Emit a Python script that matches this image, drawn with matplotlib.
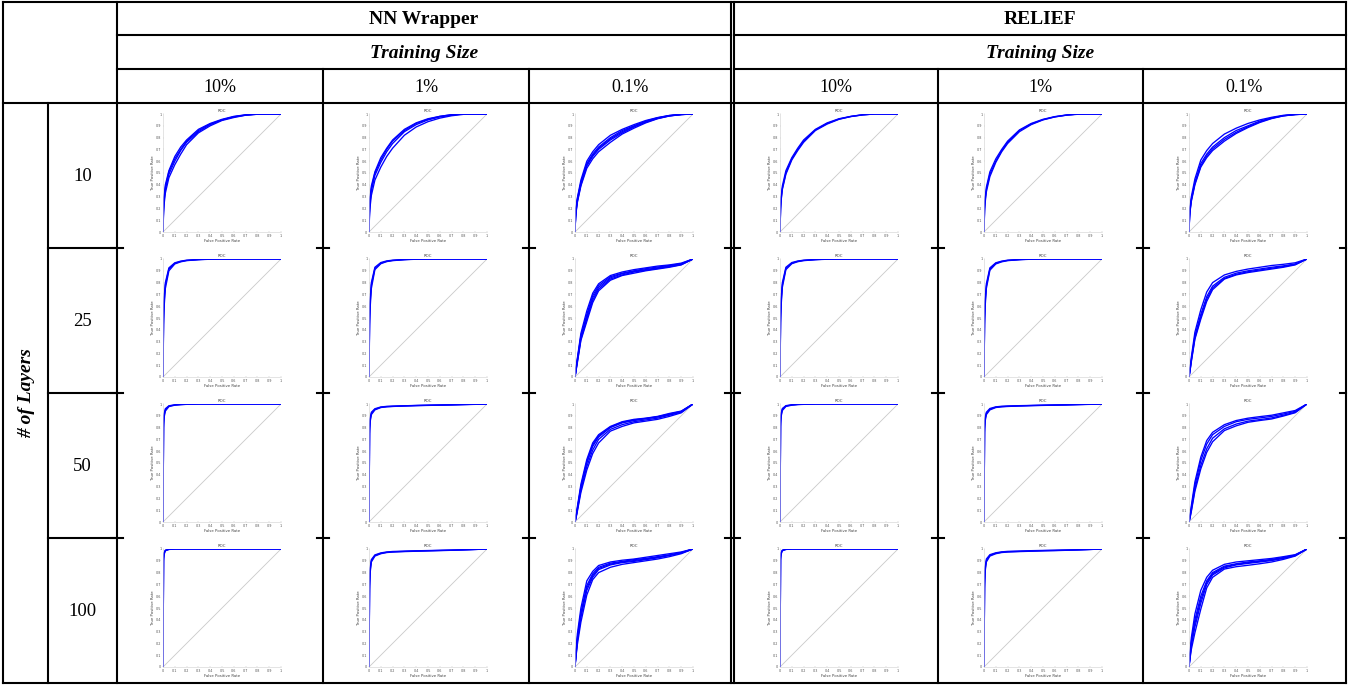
import matplotlib
matplotlib.use("Agg")
import matplotlib.pyplot as plt

W, H = 1348, 685

# ---------------- table labels ----------------
METHODS = ["NN Wrapper", "RELIEF"]
SUBHEAD = "Training Size"
SIZES = ["10%", "1%", "0.1%"]
LAYERS = ["10", "25", "50", "100"]
ROW_TITLE = "# of Layers"

# ---------------- ROC data ----------------
FPR = [0, .005, .01, .02, .05, .1, .15, .2, .3, .4, .5, .6, .7, .8, .9, 1]
DIAG = [0, 1]
TICKS = [0, .1, .2, .3, .4, .5, .6, .7, .8, .9, 1]
TICK_LABELS = ["0", "0.1", "0.2", "0.3", "0.4", "0.5", "0.6", "0.7", "0.8", "0.9", "1"]

NN_L10_S10 = [
    [0, .24, .31, .40, .52, .64, .72, .78, .87, .92, .955, .98, .993, 1, 1, 1],
    [0, .20, .27, .36, .49, .60, .69, .76, .85, .91, .95, .975, .99, .998, 1, 1],
    [0, .17, .24, .33, .46, .57, .66, .74, .84, .90, .945, .97, .99, .998, 1, 1],
    [0, .22, .29, .38, .51, .62, .70, .77, .86, .915, .95, .977, .992, 1, 1, 1],
]
NN_L10_S1 = [
    [0, .23, .30, .39, .51, .63, .71, .78, .87, .925, .96, .98, .995, 1, 1, 1],
    [0, .19, .26, .35, .48, .59, .68, .75, .85, .91, .95, .975, .99, 1, 1, 1],
    [0, .16, .22, .31, .44, .55, .64, .71, .82, .89, .935, .965, .985, .997, 1, 1],
    [0, .21, .28, .37, .50, .61, .70, .77, .86, .92, .955, .98, .993, 1, 1, 1],
]
NN_L10_S01 = [
    [0, .15, .21, .29, .44, .60, .68, .74, .82, .87, .91, .945, .97, .988, .997, 1],
    [0, .13, .19, .27, .41, .57, .65, .71, .79, .85, .895, .935, .965, .985, .996, 1],
    [0, .12, .17, .25, .39, .54, .62, .68, .76, .83, .88, .925, .96, .983, .995, 1],
    [0, .14, .20, .28, .42, .58, .66, .72, .80, .86, .90, .94, .968, .987, .996, 1],
    [0, .12, .18, .26, .40, .56, .64, .70, .78, .84, .89, .93, .962, .984, .995, 1],
]
NN_L25_S10 = [
    [0, .55, .68, .80, .925, .968, .982, .99, .996, 1, 1, 1, 1, 1, 1, 1],
    [0, .45, .60, .75, .90, .958, .976, .986, .994, .998, 1, 1, 1, 1, 1, 1],
    [0, .50, .64, .78, .915, .963, .979, .988, .995, .999, 1, 1, 1, 1, 1, 1],
]
NN_L25_S1 = [
    [0, .52, .66, .80, .93, .97, .984, .99, .996, 1, 1, 1, 1, 1, 1, 1],
    [0, .44, .59, .75, .91, .96, .978, .986, .994, .998, 1, 1, 1, 1, 1, 1],
    [0, .48, .63, .78, .92, .965, .98, .988, .995, .999, 1, 1, 1, 1, 1, 1],
]
NN_L25_S01 = [
    [0, .04, .08, .16, .37, .56, .71, .79, .86, .89, .91, .925, .94, .95, .965, 1],
    [0, .035, .07, .14, .34, .51, .67, .76, .84, .875, .895, .91, .925, .94, .955, 1],
    [0, .03, .06, .12, .31, .47, .63, .73, .82, .86, .88, .90, .915, .93, .95, 1],
    [0, .04, .075, .15, .35, .53, .69, .775, .85, .88, .90, .918, .932, .945, .96, 1],
    [0, .03, .065, .13, .32, .49, .65, .745, .83, .865, .89, .905, .92, .935, .952, 1],
]
NN_L50_S10 = [
    [0, .85, .92, .96, .985, .993, .996, .998, 1, 1, 1, 1, 1, 1, 1, 1],
    [0, .80, .89, .94, .978, .99, .995, .997, 1, 1, 1, 1, 1, 1, 1, 1],
    [0, .83, .905, .95, .982, .992, .9955, .9975, 1, 1, 1, 1, 1, 1, 1, 1],
]
NN_L50_S1 = [
    [0, .80, .88, .93, .96, .975, .98, .982, .985, .988, .99, .992, .994, .996, .998, 1],
    [0, .75, .85, .91, .95, .97, .976, .979, .983, .986, .988, .99, .992, .995, .997, 1],
    [0, .78, .865, .92, .955, .972, .978, .98, .984, .987, .989, .991, .993, .9955, .9975, 1],
]
NN_L50_S01 = [
    [0, .03, .06, .13, .32, .53, .67, .74, .81, .85, .87, .88, .895, .92, .94, 1],
    [0, .025, .05, .11, .29, .50, .64, .72, .80, .84, .86, .875, .89, .91, .935, 1],
    [0, .02, .045, .10, .27, .47, .61, .70, .785, .825, .85, .865, .88, .905, .93, 1],
    [0, .02, .04, .09, .25, .44, .58, .67, .77, .81, .84, .855, .87, .895, .925, 1],
    [0, .025, .05, .115, .30, .51, .655, .73, .805, .845, .865, .878, .892, .915, .937, 1],
]
NN_L100_S10 = [
    [0, .93, .97, .99, .998, 1, 1, 1, 1, 1, 1, 1, 1, 1, 1, 1],
    [0, .90, .955, .985, .996, 1, 1, 1, 1, 1, 1, 1, 1, 1, 1, 1],
    [0, .92, .963, .988, .997, 1, 1, 1, 1, 1, 1, 1, 1, 1, 1, 1],
]
NN_L100_S1 = [
    [0, .72, .84, .91, .95, .967, .975, .979, .982, .985, .987, .989, .991, .994, .997, 1],
    [0, .66, .80, .89, .94, .96, .97, .974, .978, .981, .984, .986, .989, .992, .996, 1],
    [0, .69, .82, .90, .945, .963, .972, .976, .98, .983, .985, .988, .99, .993, .996, 1],
]
NN_L100_S01 = [
    [0, .08, .15, .28, .50, .73, .81, .86, .89, .905, .915, .93, .945, .96, .975, 1],
    [0, .07, .13, .25, .46, .69, .79, .845, .88, .895, .91, .92, .935, .95, .97, 1],
    [0, .06, .11, .22, .42, .65, .76, .825, .865, .885, .895, .91, .925, .945, .965, 1],
    [0, .05, .10, .19, .38, .61, .74, .80, .845, .87, .885, .90, .915, .935, .96, 1],
    [0, .065, .12, .23, .44, .67, .775, .835, .872, .89, .902, .915, .93, .948, .968, 1],
]

RE_L10_S10 = [
    [0, .22, .30, .39, .52, .63, .71, .78, .87, .925, .96, .98, .994, 1, 1, 1],
    [0, .19, .27, .36, .49, .61, .69, .76, .86, .915, .955, .978, .992, 1, 1, 1],
    [0, .20, .28, .37, .50, .62, .70, .77, .865, .92, .957, .979, .993, 1, 1, 1],
]
RE_L10_S1 = [
    [0, .22, .29, .38, .51, .62, .70, .77, .865, .92, .955, .978, .992, 1, 1, 1],
    [0, .18, .25, .34, .47, .59, .68, .75, .85, .91, .95, .975, .99, .998, 1, 1],
    [0, .20, .27, .36, .49, .60, .69, .76, .86, .915, .952, .976, .991, 1, 1, 1],
]
RE_L10_S01 = [
    [0, .16, .22, .30, .45, .61, .69, .75, .83, .88, .92, .95, .972, .989, .997, 1],
    [0, .14, .20, .28, .42, .58, .66, .72, .80, .86, .90, .94, .967, .986, .996, 1],
    [0, .12, .18, .26, .40, .55, .63, .69, .77, .835, .885, .928, .961, .984, .995, 1],
    [0, .13, .19, .27, .41, .56, .645, .705, .785, .845, .892, .933, .964, .985, .995, 1],
]
RE_L25_S10 = [
    [0, .53, .67, .80, .93, .97, .983, .99, .996, 1, 1, 1, 1, 1, 1, 1],
    [0, .46, .61, .76, .91, .96, .977, .986, .994, .998, 1, 1, 1, 1, 1, 1],
    [0, .50, .64, .78, .92, .965, .98, .988, .995, .999, 1, 1, 1, 1, 1, 1],
]
RE_L25_S1 = [
    [0, .51, .66, .79, .925, .968, .982, .99, .996, 1, 1, 1, 1, 1, 1, 1],
    [0, .45, .60, .75, .905, .958, .976, .986, .994, .998, 1, 1, 1, 1, 1, 1],
    [0, .48, .63, .77, .915, .963, .979, .988, .995, .999, 1, 1, 1, 1, 1, 1],
]
RE_L25_S01 = [
    [0, .04, .08, .17, .38, .57, .72, .80, .865, .895, .915, .93, .945, .955, .968, 1],
    [0, .035, .07, .15, .35, .53, .68, .77, .845, .88, .90, .915, .93, .942, .958, 1],
    [0, .03, .06, .13, .32, .49, .64, .74, .83, .865, .885, .90, .915, .93, .95, 1],
    [0, .03, .065, .14, .33, .51, .66, .755, .835, .87, .892, .907, .922, .936, .954, 1],
]
RE_L50_S10 = [
    [0, .86, .925, .962, .986, .994, .997, .998, 1, 1, 1, 1, 1, 1, 1, 1],
    [0, .81, .895, .945, .979, .99, .995, .997, 1, 1, 1, 1, 1, 1, 1, 1],
    [0, .84, .91, .953, .983, .992, .996, .998, 1, 1, 1, 1, 1, 1, 1, 1],
]
RE_L50_S1 = [
    [0, .81, .885, .93, .962, .976, .981, .983, .986, .988, .99, .992, .994, .996, .998, 1],
    [0, .76, .855, .91, .95, .97, .976, .979, .983, .986, .988, .99, .992, .995, .997, 1],
    [0, .79, .87, .92, .956, .973, .978, .981, .984, .987, .989, .991, .993, .9955, .9975, 1],
]
RE_L50_S01 = [
    [0, .03, .065, .14, .34, .55, .69, .76, .825, .86, .88, .893, .905, .925, .945, 1],
    [0, .025, .055, .12, .31, .52, .66, .74, .81, .85, .87, .882, .895, .915, .938, 1],
    [0, .02, .045, .10, .28, .48, .62, .71, .79, .83, .855, .868, .882, .905, .93, 1],
    [0, .02, .04, .09, .26, .45, .59, .68, .775, .815, .845, .86, .873, .898, .926, 1],
]
RE_L100_S10 = [
    [0, .935, .972, .99, .998, 1, 1, 1, 1, 1, 1, 1, 1, 1, 1, 1],
    [0, .905, .957, .985, .996, 1, 1, 1, 1, 1, 1, 1, 1, 1, 1, 1],
    [0, .92, .965, .988, .997, 1, 1, 1, 1, 1, 1, 1, 1, 1, 1, 1],
]
RE_L100_S1 = [
    [0, .73, .85, .915, .952, .968, .976, .98, .983, .986, .988, .99, .992, .994, .997, 1],
    [0, .67, .81, .89, .94, .96, .97, .974, .978, .981, .984, .986, .989, .992, .996, 1],
    [0, .70, .83, .90, .946, .964, .973, .977, .98, .983, .986, .988, .99, .993, .996, 1],
]
RE_L100_S01 = [
    [0, .07, .13, .25, .45, .65, .76, .82, .87, .89, .90, .91, .92, .935, .952, 1],
    [0, .06, .11, .22, .40, .60, .73, .80, .855, .875, .89, .90, .912, .928, .948, 1],
    [0, .05, .09, .18, .34, .54, .70, .78, .84, .865, .878, .89, .902, .92, .944, 1],
    [0, .04, .08, .15, .29, .49, .67, .76, .83, .85, .862, .875, .89, .912, .94, 1],
    [0, .055, .10, .20, .37, .57, .715, .79, .848, .87, .884, .895, .907, .924, .946, 1],
]

ROC = {
    (0, 0, 0): NN_L10_S10, (0, 0, 1): NN_L10_S1, (0, 0, 2): NN_L10_S01,
    (0, 1, 0): NN_L25_S10, (0, 1, 1): NN_L25_S1, (0, 1, 2): NN_L25_S01,
    (0, 2, 0): NN_L50_S10, (0, 2, 1): NN_L50_S1, (0, 2, 2): NN_L50_S01,
    (0, 3, 0): NN_L100_S10, (0, 3, 1): NN_L100_S1, (0, 3, 2): NN_L100_S01,
    (1, 0, 0): RE_L10_S10, (1, 0, 1): RE_L10_S1, (1, 0, 2): RE_L10_S01,
    (1, 1, 0): RE_L25_S10, (1, 1, 1): RE_L25_S1, (1, 1, 2): RE_L25_S01,
    (1, 2, 0): RE_L50_S10, (1, 2, 1): RE_L50_S1, (1, 2, 2): RE_L50_S01,
    (1, 3, 0): RE_L100_S10, (1, 3, 1): RE_L100_S1, (1, 3, 2): RE_L100_S01,
}

# ---------------- geometry (pixels) ----------------
X_LEFT, X_LAB, X_NUM, X_RIGHT = 3, 48, 117, 1346
X_DBL = (731, 734)
COLS = [[117, 323, 529, 731], [734, 938, 1143, 1346]]
Y_TOP, Y_H1, Y_H2, Y_H3 = 2, 35, 69, 103
ROWS = [103, 248, 393, 538, 683]

SERIF = "Liberation Serif"
LW = 1.5

fig = plt.figure(figsize=(W / 100, H / 100), dpi=100)
fig.patch.set_facecolor("white")
tab = fig.add_axes([0, 0, 1, 1])
tab.set_xlim(0, W)
tab.set_ylim(H, 0)
tab.axis("off")


def hline(y, x0, x1):
    tab.plot([x0, x1], [y, y], color="black", lw=LW, solid_capstyle="projecting")


def vline(x, y0, y1):
    tab.plot([x, x], [y0, y1], color="black", lw=LW, solid_capstyle="projecting")


# outer + fixed verticals
vline(X_LEFT, Y_TOP, ROWS[-1])
vline(X_NUM, Y_TOP, ROWS[-1])
vline(X_RIGHT, Y_TOP, ROWS[-1])
vline(X_LAB, Y_H3, ROWS[-1])
for xd in X_DBL:
    vline(xd, Y_TOP, ROWS[-1])
for cols in COLS:
    for x in cols[1:3]:
        vline(x, Y_H2, ROWS[-1])

# horizontals
hline(Y_TOP, X_LEFT, X_RIGHT)
for y in (Y_H1, Y_H2):
    hline(y, X_NUM, X_DBL[0])
    hline(y, X_DBL[1], X_RIGHT)
hline(Y_H3, X_LEFT, X_RIGHT)
hline(ROWS[-1], X_LEFT, X_RIGHT)
for y in ROWS[1:-1]:
    hline(y, X_LAB, X_NUM)
    for x in [X_NUM, 323, 529, 938, 1143]:
        hline(y, x - 6, x + 6)
    hline(y, X_DBL[0] - 6, X_DBL[1] + 6)
    hline(y, X_RIGHT - 6, X_RIGHT)

# header texts
for m, cols in enumerate(COLS):
    cx = (cols[0] + cols[-1]) / 2
    tab.text(cx, (Y_TOP + Y_H1) / 2 + 1, METHODS[m], family=SERIF, fontsize=14,
             fontweight="bold", ha="center", va="center")
    tab.text(cx, (Y_H1 + Y_H2) / 2 + 1, SUBHEAD, family=SERIF, fontsize=14,
             fontweight="bold", style="italic", ha="center", va="center")
    for s in range(3):
        tab.text((cols[s] + cols[s + 1]) / 2, (Y_H2 + Y_H3) / 2 + 1, SIZES[s],
                 family=SERIF, fontsize=13, ha="center", va="center")

for r in range(4):
    tab.text((X_LAB + X_NUM) / 2, (ROWS[r] + ROWS[r + 1]) / 2 + 1, LAYERS[r],
             family=SERIF, fontsize=13.5, ha="center", va="center")
tab.text((X_LEFT + X_LAB) / 2 + 1, (ROWS[0] + ROWS[-1]) / 2, ROW_TITLE, family=SERIF,
         fontsize=14, fontweight="bold", style="italic", rotation=90,
         ha="center", va="center")

# ROC mini plots
AX_OFF_X, AX_OFF_Y, AX_SIZE = 46, 11, 118
for (m, r, s), curves in ROC.items():
    x0 = COLS[m][s] + AX_OFF_X
    y0 = ROWS[r] + AX_OFF_Y
    ax = fig.add_axes([x0 / W, 1 - (y0 + AX_SIZE) / H, AX_SIZE / W, AX_SIZE / H])
    ax.set_facecolor("white")
    ax.plot(DIAG, DIAG, color="#c9c9c9", lw=0.6)
    for c in curves:
        ax.plot(FPR, c, color="#0000ff", lw=0.95)
    ax.set_xlim(0, 1)
    ax.set_ylim(0, 1)
    ax.set_xticks(TICKS)
    ax.set_yticks(TICKS)
    ax.set_xticklabels(TICK_LABELS)
    ax.set_yticklabels(TICK_LABELS)
    ax.tick_params(labelsize=2.4, labelcolor="#555555", length=1, width=0.3,
                   color="#bbbbbb", direction="in", pad=1.2)
    for side in ("top", "right"):
        ax.spines[side].set_visible(False)
    for side in ("left", "bottom"):
        ax.spines[side].set_color("#d0d0d0")
        ax.spines[side].set_linewidth(0.4)
    ax.set_title("ROC", fontsize=2.8, color="#444444", pad=1.5)
    ax.set_xlabel("False Positive Rate", fontsize=2.8, color="#444444", labelpad=0.8)
    ax.set_ylabel("True Positive Rate", fontsize=2.8, color="#444444", labelpad=0.8)

fig.savefig("out.png", dpi=100, facecolor="white")
